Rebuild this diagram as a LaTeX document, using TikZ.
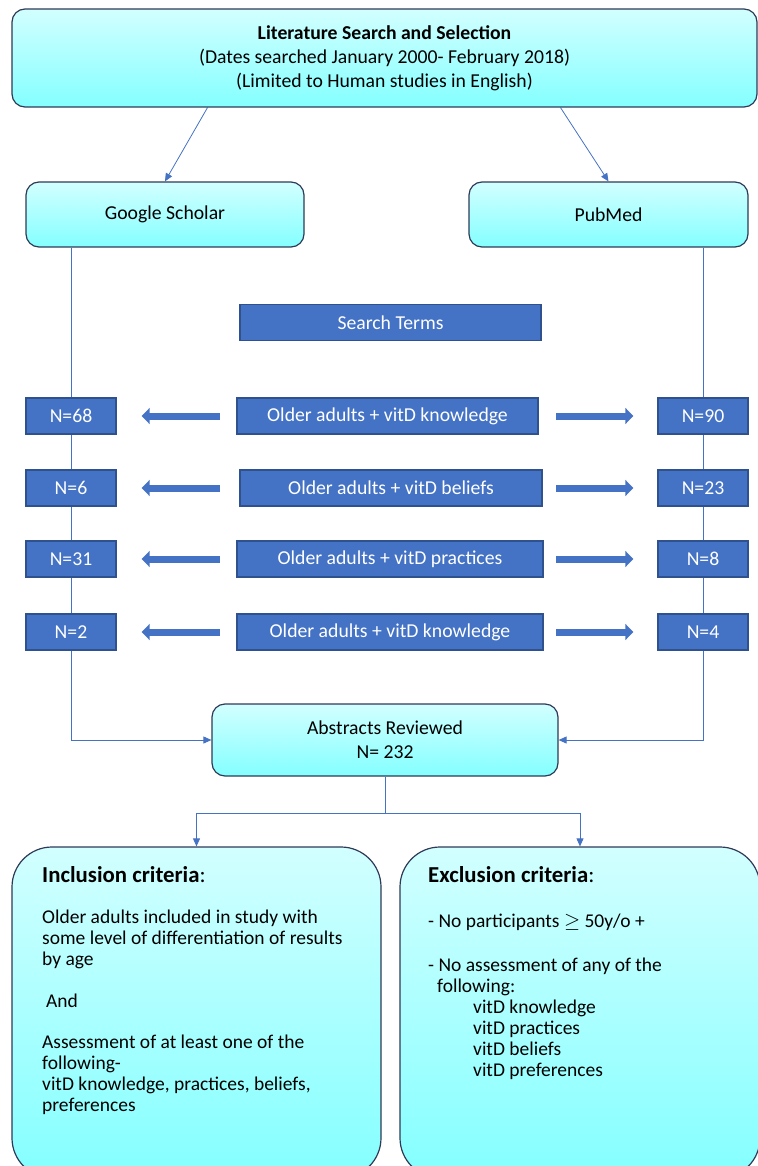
\documentclass[tikz,border=0pt]{standalone}
\usepackage{fontspec}
\setmainfont{Carlito}
\usetikzlibrary{arrows.meta,backgrounds,calc}

\definecolor{boxblue}{HTML}{4472C4}
\definecolor{termedge}{HTML}{2F528F}
\definecolor{boxedge}{HTML}{2E3A57}
\definecolor{cyantop}{HTML}{D2FFFF}
\definecolor{cyanbot}{HTML}{84FFFF}

\tikzset{
  softbox/.style={draw=boxedge, line width=1.2pt, rounded corners=13pt,
    top color=cyantop, bottom color=cyanbot, inner sep=0pt, align=center,
    font=\fontsize{19.7}{24}\selectfont},
  termbox/.style={draw=termedge, line width=1.4pt, fill=boxblue, text=white,
    minimum height=36pt, inner sep=0pt, font=\fontsize{19.7}{24}\selectfont},
  link/.style={draw=boxblue, line width=0.8pt},
  linkarrow/.style={link, -{Triangle[width=7pt,length=8pt]}},
  fatarrow/.style={draw=boxblue, line width=7pt, -{Triangle[width=16pt,length=8pt]}},
}

\begin{document}
\begin{tikzpicture}[x=1pt, y=-1pt]
    \useasboundingbox (0, 0) rectangle (757, 1166);

    % Top box and the two databases
    \node[softbox, minimum width=745pt, minimum height=98pt] (search) at (384.5, 58)
        {\textbf{Literature Search and Selection}\\(Dates searched January 2000- February 2018)\\(Limited to Human studies in English)};
    \node[softbox, minimum width=278pt, minimum height=65pt] (scholar) at (165, 214.5) {Google Scholar};
    \node[softbox, minimum width=279pt, minimum height=65pt] (pubmed) at (608.5, 214.5) {PubMed};

    \node[termbox, minimum width=301pt] (terms) at (390.5, 322.5) {Search Terms};

    % Rows: search term in the middle, counts left (Google Scholar) and right (PubMed)
    \foreach \i/\y/\mx/\mw/\term/\gn/\pn in {
        1/416/387.5/301/{Older adults + vitD knowledge}/68/90,
        2/488/391/302/{Older adults + vitD beliefs}/6/23,
        3/559/390/306/{Older adults + vitD practices}/31/8,
        4/632/390/306/{Older adults + vitD knowledge}/2/4} {
        \node[termbox, minimum width=\mw pt] (term\i) at (\mx, \y) {\term};
        \node[termbox, minimum width=90pt] (gs\i) at (71, \y) {N=\gn};
        \node[termbox, minimum width=90pt] (pm\i) at (703, \y) {N=\pn};
        \draw[fatarrow] ([xshift=103pt]gs\i.east) -- ([xshift=25pt]gs\i.east);
        \draw[fatarrow] ([xshift=-101pt]pm\i.west) -- ([xshift=-24pt]pm\i.west);
    }

    % Abstracts
    \node[softbox, minimum width=346pt, minimum height=72pt] (abstracts) at (385, 740)
        {Abstracts Reviewed\\N= 232};

    % Criteria boxes
    \node[softbox, rounded corners=40pt, minimum width=369pt, minimum height=331pt] (incl) at (196.5, 1012.5) {};
    \node[softbox, rounded corners=40pt, minimum width=360pt, minimum height=331pt] (excl) at (580, 1012.5) {};

    \node[anchor=north west, inner sep=0pt, align=left, font=\fontsize{19.5}{20.8}\selectfont] (incltext) at (42, 866)
        {{\fontsize{22.8}{20.8}\selectfont\textbf{Inclusion criteria}:}\\[0pt]
         \\
         Older adults included in study with\\
         some level of differentiation of results\\
         by age\\
         \\
         \hspace*{4pt}And\\
         \\
         Assessment of at least one of the\\
         following-\\
         vitD knowledge, practices, beliefs,\\
         preferences};

    \node[anchor=north west, inner sep=0pt, align=left, font=\fontsize{19.5}{21}\selectfont] (excltext) at (428, 866)
        {{\fontsize{22.8}{21}\selectfont\textbf{Exclusion criteria}:}\\[24pt]
         - No participants $\geq$ 50y/o +\\[23pt]
         - No assessment of any of the\\
         \hspace*{9pt}following:\\
         \hspace*{45pt}vitD knowledge\\
         \hspace*{45pt}vitD practices\\
         \hspace*{45pt}vitD beliefs\\
         \hspace*{45pt}vitD preferences};

    % Connectors
    \begin{scope}[on background layer]
        \draw[linkarrow] ([xshift=-177pt]search.south) -- (scholar.north);
        \draw[linkarrow] ([xshift=176pt]search.south) -- (pubmed.north);
        \draw[linkarrow] (gs1.center |- scholar.south) -- (gs1.center |- abstracts.west) -- (abstracts.west);
        \draw[linkarrow] (pm1.center |- pubmed.south) -- (pm1.center |- abstracts.east) -- (abstracts.east);
        \draw[link] (abstracts.south) -- ++(0, 37) coordinate (split);
        \draw[linkarrow] (split) -| (incl.north);
        \draw[linkarrow] (split) -| (excl.north);
    \end{scope}
\end{tikzpicture}
\end{document}
